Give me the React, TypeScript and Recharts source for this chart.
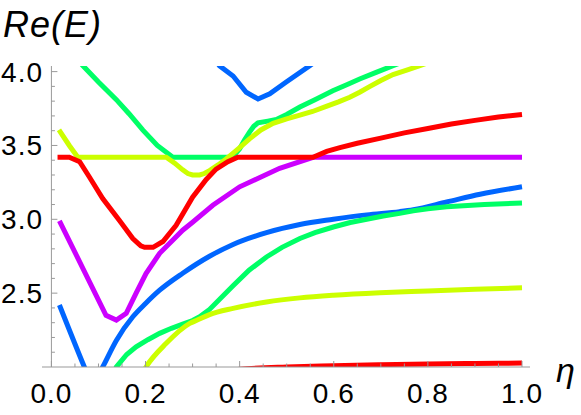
import { LineChart, Line, XAxis, YAxis, ReferenceLine } from 'recharts';

// Re(E) vs eta
const redUpper = [
  { eta: 0.013, e: 3.42 }, { eta: 0.038, e: 3.42 }, { eta: 0.06, e: 3.39 }, { eta: 0.08, e: 3.29 },
  { eta: 0.109, e: 3.14 }, { eta: 0.145, e: 2.99 }, { eta: 0.173, e: 2.87 }, { eta: 0.19, e: 2.82 },
  { eta: 0.198, e: 2.81 }, { eta: 0.216, e: 2.81 }, { eta: 0.237, e: 2.85 }, { eta: 0.265, e: 2.96 },
  { eta: 0.3, e: 3.15 }, { eta: 0.329, e: 3.27 }, { eta: 0.35, e: 3.34 }, { eta: 0.375, e: 3.39 },
  { eta: 0.396, e: 3.42 }, { eta: 0.556, e: 3.42 }, { eta: 0.585, e: 3.46 }, { eta: 0.613, e: 3.485 },
  { eta: 0.65, e: 3.515 }, { eta: 0.7, e: 3.55 }, { eta: 0.75, e: 3.585 }, { eta: 0.8, e: 3.615 },
  { eta: 0.85, e: 3.645 }, { eta: 0.9, e: 3.67 }, { eta: 0.95, e: 3.692 }, { eta: 1.0, e: 3.71 },
];

const redLower = [
  { eta: 0.3, e: 1.95 }, { eta: 0.4, e: 1.985 }, { eta: 0.5, e: 2.0 }, { eta: 0.6, e: 2.009 },
  { eta: 0.7, e: 2.016 }, { eta: 0.8, e: 2.021 }, { eta: 0.9, e: 2.024 }, { eta: 1.0, e: 2.027 },
];

const yellowUpper = [
  { eta: 0.016, e: 3.606 }, { eta: 0.038, e: 3.5 }, { eta: 0.056, e: 3.42 }, { eta: 0.244, e: 3.42 },
  { eta: 0.262, e: 3.38 }, { eta: 0.279, e: 3.335 }, { eta: 0.29, e: 3.31 }, { eta: 0.3, e: 3.3 },
  { eta: 0.315, e: 3.3 }, { eta: 0.325, e: 3.31 }, { eta: 0.336, e: 3.33 }, { eta: 0.355, e: 3.37 },
  { eta: 0.372, e: 3.41 }, { eta: 0.385, e: 3.445 }, { eta: 0.4, e: 3.485 }, { eta: 0.421, e: 3.545 },
  { eta: 0.445, e: 3.605 }, { eta: 0.471, e: 3.65 }, { eta: 0.5, e: 3.68 }, { eta: 0.528, e: 3.705 },
  { eta: 0.555, e: 3.73 }, { eta: 0.584, e: 3.765 }, { eta: 0.61, e: 3.795 }, { eta: 0.634, e: 3.826 },
  { eta: 0.655, e: 3.86 }, { eta: 0.677, e: 3.9 }, { eta: 0.7, e: 3.94 }, { eta: 0.726, e: 3.98 },
  { eta: 0.755, e: 4.01 }, { eta: 0.783, e: 4.04 }, { eta: 0.8, e: 4.06 },
];

const yellowLower = [
  { eta: 0.19, e: 1.94 }, { eta: 0.201, e: 2.0 }, { eta: 0.244, e: 2.16 }, { eta: 0.294, e: 2.295 },
  { eta: 0.31, e: 2.318 }, { eta: 0.336, e: 2.355 }, { eta: 0.386, e: 2.397 }, { eta: 0.457, e: 2.44 },
  { eta: 0.528, e: 2.468 }, { eta: 0.599, e: 2.486 }, { eta: 0.698, e: 2.503 }, { eta: 0.8, e: 2.515 },
  { eta: 0.9, e: 2.527 }, { eta: 1.0, e: 2.536 },
];

const greenUpper = [
  { eta: 0.05, e: 4.1 }, { eta: 0.067, e: 4.04 }, { eta: 0.1, e: 3.93 }, { eta: 0.138, e: 3.81 },
  { eta: 0.165, e: 3.715 }, { eta: 0.194, e: 3.605 }, { eta: 0.225, e: 3.5 }, { eta: 0.258, e: 3.42 },
  { eta: 0.379, e: 3.42 }, { eta: 0.39, e: 3.44 }, { eta: 0.4, e: 3.478 }, { eta: 0.41, e: 3.535 },
  { eta: 0.421, e: 3.59 }, { eta: 0.43, e: 3.63 }, { eta: 0.439, e: 3.653 }, { eta: 0.46, e: 3.665 },
  { eta: 0.478, e: 3.676 }, { eta: 0.5, e: 3.71 }, { eta: 0.528, e: 3.76 }, { eta: 0.56, e: 3.81 },
  { eta: 0.598, e: 3.87 }, { eta: 0.63, e: 3.915 }, { eta: 0.655, e: 3.95 }, { eta: 0.69, e: 3.995 },
  { eta: 0.726, e: 4.04 }, { eta: 0.75, e: 4.07 },
];

const greenLower = [
  { eta: 0.125, e: 1.92 }, { eta: 0.138, e: 2.0 }, { eta: 0.16, e: 2.085 }, { eta: 0.18, e: 2.137 },
  { eta: 0.205, e: 2.185 }, { eta: 0.23, e: 2.228 }, { eta: 0.255, e: 2.262 }, { eta: 0.279, e: 2.29 },
  { eta: 0.3, e: 2.315 }, { eta: 0.315, e: 2.34 }, { eta: 0.336, e: 2.39 }, { eta: 0.386, e: 2.55 },
  { eta: 0.42, e: 2.655 }, { eta: 0.457, e: 2.745 }, { eta: 0.49, e: 2.81 }, { eta: 0.528, e: 2.87 },
  { eta: 0.56, e: 2.91 }, { eta: 0.599, e: 2.948 }, { eta: 0.635, e: 2.978 }, { eta: 0.67, e: 3.0 },
  { eta: 0.705, e: 3.022 }, { eta: 0.74, e: 3.04 }, { eta: 0.769, e: 3.058 }, { eta: 0.8, e: 3.072 },
  { eta: 0.84, e: 3.085 }, { eta: 0.92, e: 3.1 }, { eta: 1.0, e: 3.11 },
];

const blueUpper = [
  { eta: 0.34, e: 4.12 }, { eta: 0.357, e: 4.04 }, { eta: 0.386, e: 3.97 }, { eta: 0.414, e: 3.86 },
  { eta: 0.439, e: 3.815 }, { eta: 0.464, e: 3.85 }, { eta: 0.499, e: 3.93 }, { eta: 0.549, e: 4.04 },
  { eta: 0.57, e: 4.09 },
];

const blueLower = [
  { eta: 0.017, e: 2.42 }, { eta: 0.07, e: 2.0 }, { eta: 0.087, e: 1.87 }, { eta: 0.109, e: 2.0 },
  { eta: 0.138, e: 2.18 }, { eta: 0.173, e: 2.34 }, { eta: 0.2, e: 2.43 }, { eta: 0.23, e: 2.52 },
  { eta: 0.279, e: 2.635 }, { eta: 0.336, e: 2.75 }, { eta: 0.386, e: 2.83 }, { eta: 0.457, e: 2.91 },
  { eta: 0.528, e: 2.965 }, { eta: 0.599, e: 3.0 }, { eta: 0.67, e: 3.03 }, { eta: 0.74, e: 3.052 },
  { eta: 0.769, e: 3.065 }, { eta: 0.84, e: 3.117 }, { eta: 0.911, e: 3.17 }, { eta: 1.0, e: 3.22 },
];

const purple = [
  { eta: 0.017, e: 2.99 }, { eta: 0.116, e: 2.35 }, { eta: 0.138, e: 2.318 }, { eta: 0.159, e: 2.363 },
  { eta: 0.18, e: 2.5 }, { eta: 0.201, e: 2.633 }, { eta: 0.23, e: 2.77 }, { eta: 0.279, e: 2.926 },
  { eta: 0.3, e: 2.98 }, { eta: 0.343, e: 3.095 }, { eta: 0.4, e: 3.22 }, { eta: 0.485, e: 3.345 },
  { eta: 0.556, e: 3.42 }, { eta: 1.0, e: 3.42 },
];

const xTicks = [0, 0.05, 0.1, 0.15, 0.2, 0.25, 0.3, 0.35, 0.4, 0.45, 0.5, 0.55, 0.6, 0.65, 0.7, 0.75, 0.8, 0.85, 0.9, 0.95, 1.0];
const xMajor = [0, 0.2, 0.4, 0.6, 0.8, 1.0];
const yTicks = [2.1, 2.2, 2.3, 2.4, 2.5, 2.6, 2.7, 2.8, 2.9, 3.0, 3.1, 3.2, 3.3, 3.4, 3.5, 3.6, 3.7, 3.8, 3.9, 4.0];
const yMajor = [2.5, 3.0, 3.5, 4.0];

const X_MIN = -0.02;
const X_MAX = 1.017;
const PLOT_W = 488;
const AXIS_OFFSET = ((0 - X_MIN) / (X_MAX - X_MIN)) * PLOT_W;
const AXIS_COLOR = '#999';
const FONT = '"Liberation Sans", Arial, sans-serif';

const isMajor = (v: number, list: number[]) => list.some((m) => Math.abs(m - v) < 1e-6);

const XTick = (props: any) => {
  const { x, y, payload } = props;
  const major = isMajor(payload.value, xMajor);
  return (
    <g>
      <line x1={x} x2={x} y1={y} y2={y - (major ? 6 : 3.5)} stroke={AXIS_COLOR} />
      {major && (
        <text x={x} y={y + 36} textAnchor="middle" fontSize={28} letterSpacing={1} fontFamily={FONT} fill="#000">
          {payload.value.toFixed(1)}
        </text>
      )}
    </g>
  );
};

const YTick = (props: any) => {
  const { x, y, payload } = props;
  const major = isMajor(payload.value, yMajor);
  const ax = x + AXIS_OFFSET;
  return (
    <g>
      <line x1={ax} x2={ax + (major ? 6 : 3.5)} y1={y} y2={y} stroke={AXIS_COLOR} />
      {major && (
        <text x={x + 1} y={y + 10} textAnchor="end" fontSize={28} letterSpacing={1} fontFamily={FONT} fill="#000">
          {payload.value.toFixed(1)}
        </text>
      )}
    </g>
  );
};

// curves with kinks are drawn as polylines, smooth ones as monotone splines
const series = [
  { data: purple, color: '#cc00ff', type: 'linear' },
  { data: blueLower, color: '#0066ff', type: 'monotoneX' },
  { data: blueUpper, color: '#0066ff', type: 'linear' },
  { data: greenLower, color: '#00ff66', type: 'linear' },
  { data: greenUpper, color: '#00ff66', type: 'linear' },
  { data: yellowLower, color: '#ccff00', type: 'monotoneX' },
  { data: yellowUpper, color: '#ccff00', type: 'linear' },
  { data: redLower, color: '#ff0000', type: 'monotoneX' },
  { data: redUpper, color: '#ff0000', type: 'linear' },
];

export default function App() {
  return (
    <div style={{ position: 'absolute', left: 0, top: 0, width: 581, height: 415, background: '#fff' }}>
      <LineChart width={581} height={415} margin={{ top: 66, right: 51, left: 0, bottom: 0 }}>
        <XAxis
          type="number"
          dataKey="eta"
          domain={[X_MIN, X_MAX]}
          ticks={xTicks}
          allowDataOverflow
          interval={0}
          height={48}
          tickSize={0}
          tickMargin={0}
          tickLine={false}
          axisLine={{ stroke: AXIS_COLOR }}
          tick={<XTick />}
        />
        <YAxis
          type="number"
          dataKey="e"
          domain={[2.0, 4.038]}
          ticks={yTicks}
          allowDataOverflow
          interval={0}
          width={42}
          tickSize={0}
          tickMargin={0}
          tickLine={false}
          axisLine={false}
          tick={<YTick />}
        />
        <ReferenceLine x={0} stroke={AXIS_COLOR} />
        {series.map((s, i) => (
          <Line
            key={i}
            data={s.data}
            dataKey="e"
            type={s.type as any}
            stroke={s.color}
            strokeWidth={5}
            dot={false}
            activeDot={false}
            isAnimationActive={false}
          />
        ))}
      </LineChart>
      <svg width={581} height={415} style={{ position: 'absolute', left: 0, top: 0, pointerEvents: 'none' }}>
        <text x={3} y={37} fontSize={36} letterSpacing={1} fontStyle="italic" fontFamily={FONT} fill="#000">Re(E)</text>
        <text x={556} y={382} fontSize={34} fontStyle="italic" fontFamily={FONT} fill="#000">η</text>
      </svg>
    </div>
  );
}
